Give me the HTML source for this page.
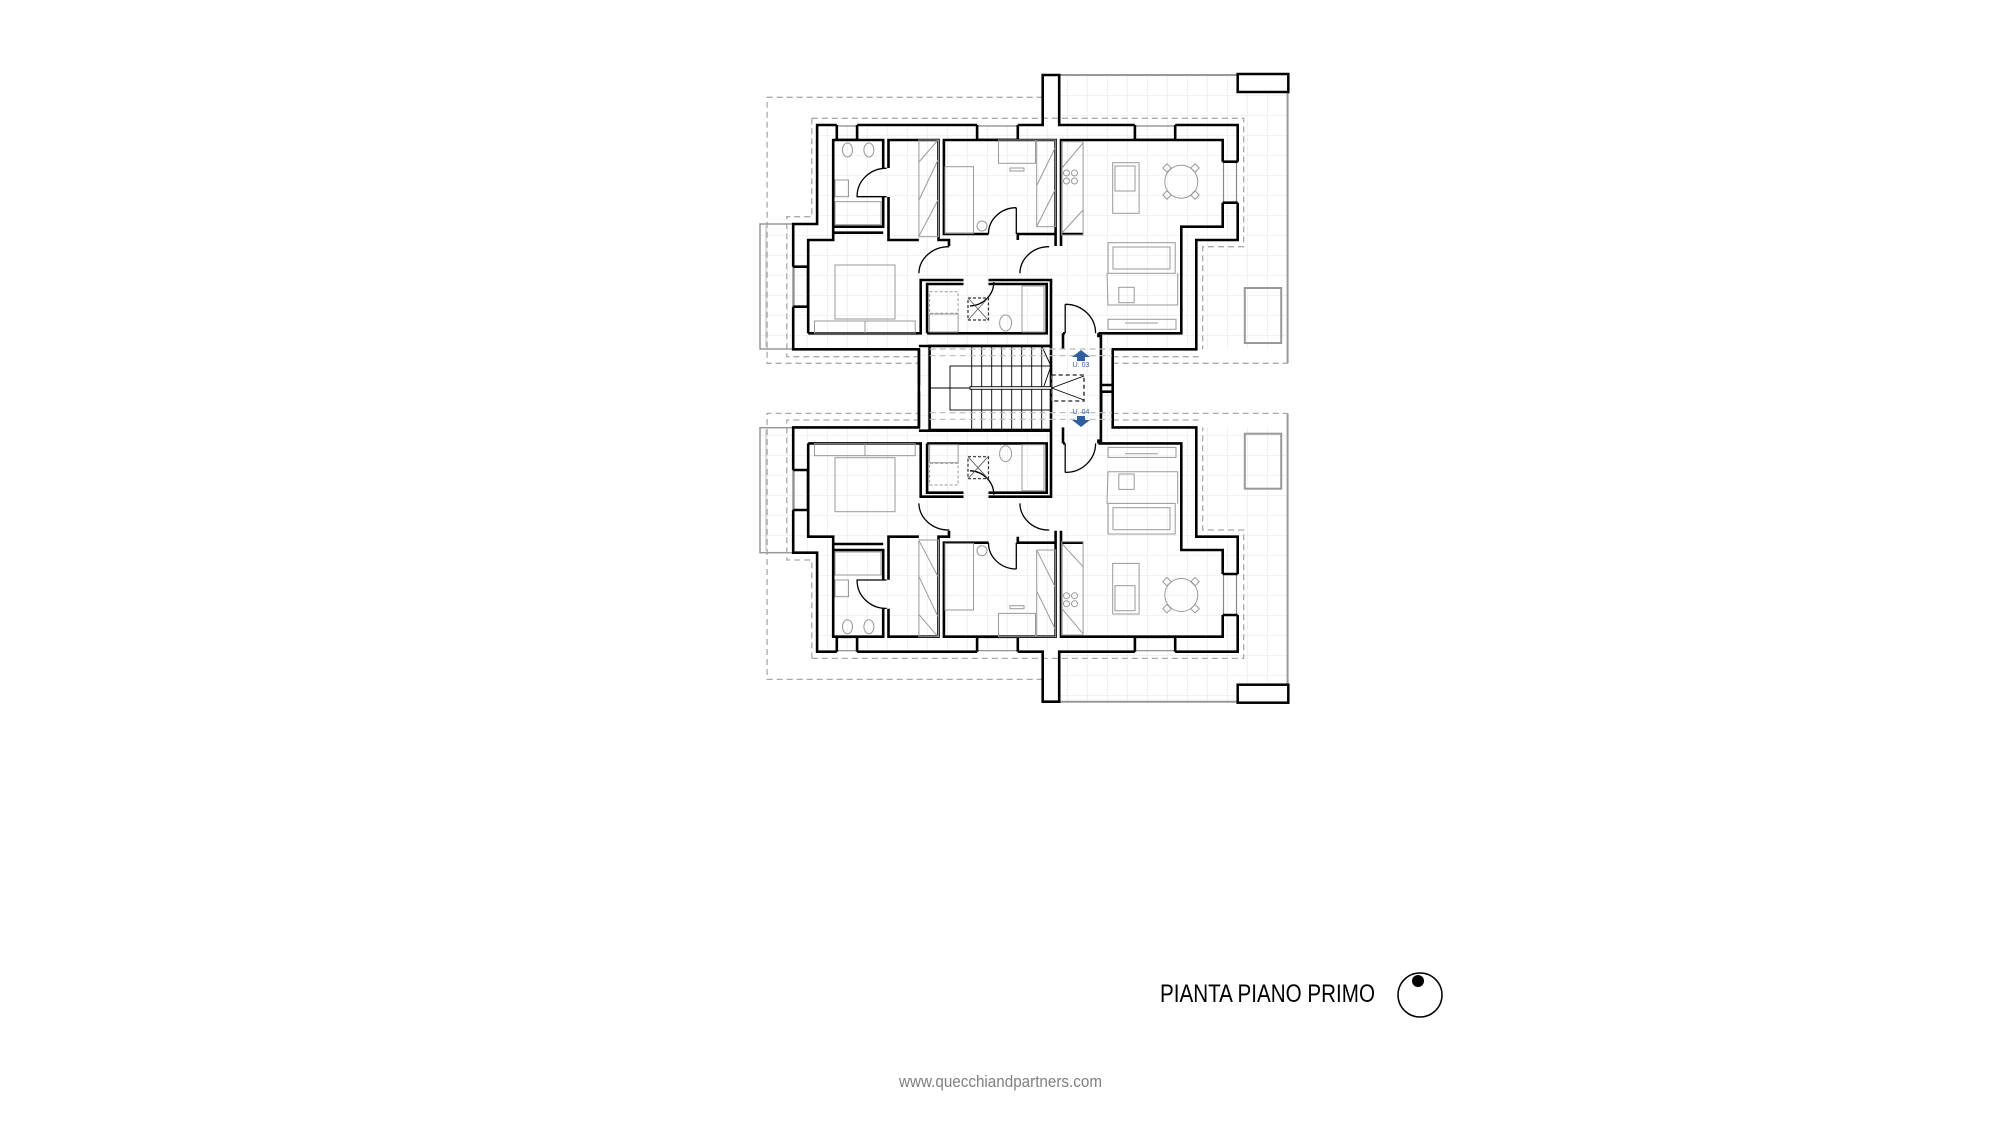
<!DOCTYPE html>
<html><head><meta charset="utf-8"><style>
html,body{margin:0;padding:0;background:#fff;}
svg{display:block;}
</style></head><body>
<svg width="2000" height="1125" viewBox="0 0 2000 1125" xmlns="http://www.w3.org/2000/svg">
<defs>
<pattern id="g" width="20" height="20" patternUnits="userSpaceOnUse" x="767" y="75">
<path d="M0 0H20M0 0V20" stroke="#e6e6e6" stroke-width="1" fill="none"/>
</pattern>
<clipPath id="cp"><path d="M760,224 H817 V125 H1059 V75 H1288 V349.3 H1112.7 V427.4 H1288 V701.7 H1059 V651.7 H817 V552.7 H760 V427.4 H918.9 V349.3 H760 Z"/></clipPath>
<g id="half">
  <path d="M1059.2,75 H1287.6 V363.3" fill="none" stroke="#999" stroke-width="2"/>
  <path d="M1042.7,97.3 H767.1 V363.3 H918.9 M1112.7,363.3 H1287.6" fill="none" stroke="#aaa" stroke-width="1.3" stroke-dasharray="6,4"/>
  <path d="M811.8,118.3 H1243.7 V246.7 H1202.7 V349.3 M811.8,118.3 V216.7 H786.8 V356.7 H918.9 M1112.7,356.7 H1202.7" fill="none" stroke="#aaa" stroke-width="1.3" stroke-dasharray="6,4"/>
  <rect x="760" y="224" width="33" height="125" fill="none" stroke="#999" stroke-width="1.5"/>
  <line x1="766" y1="226" x2="766" y2="347" stroke="#bbb"/>
  <rect x="1244.8" y="288" width="36.4" height="55" fill="none" stroke="#999" stroke-width="2"/>
  <rect x="1237.7" y="74" width="50.6" height="18" fill="#fff" stroke="#000" stroke-width="2.5"/>
  <path d="M918.9,385 V349.3 H793.2 V306.7 M793.2,266.7 V224 H817.1 V125 H836.8 M857.1,125 H977.1 M1017.8,125 H1042.7 V75 H1059.2 V125 H1134.9 M1175.2,125 H1237.7 V161.7 M1237.7,202.7 V240 H1196.3 V349.3 H1112.7 V385 H1100.9 V336 H1098.4 V333.3"
    fill="none" stroke="#000" stroke-width="2.6"/>
  <path d="M836.8,126 H857.1 M836.8,139 H857.1 M977.1,126 H1017.8 M977.1,139 H1017.8 M1134.9,126 H1175.2 M1134.9,139 H1175.2 M794,266.7 V306.7 M807,266.7 V306.7 M1236.5,161.7 V202.7 M1223.5,161.7 V202.7" stroke="#888" stroke-width="1.2"/>
  <path d="M836.8,125 V140 M857.1,125 V140 M977.1,125 V140 M1017.8,125 V140 M1134.9,125 V140 M1175.2,125 V140 M793.2,266.7 H808.2 M793.2,306.7 H808.2 M1222.7,161.7 H1237.7 M1222.7,202.7 H1237.7" stroke="#000" stroke-width="2.6"/>
  <path d="M883.2,168 V140 H833.2 V226.7 H883.2 V197 M888.5,168 V140 H938.5 V240 H949 V246 M888.5,197 V240 H918.9 M833.2,226.7 V232.7 H883.2 M808.2,333.3 V240 H833.2 V232.7 M808.2,240 V306.7"
    fill="none" stroke="#000" stroke-width="2.6"/>
  <path d="M988.5,234 H943.9 V140 H1055.6 V234 H1017.8 V240 M1061,234 V140 H1222.7 V161.7 M1222.7,202.7 V226.7 H1181.3 V333.3 H1098.4 M1061,234 H1083 M1055.6,234 V246 M1061,234 V246"
    fill="none" stroke="#000" stroke-width="2.6"/>
  <path d="M808.2,333.3 H920.7 V280 H927.1 M927.1,333.3 V284 H963.5 M988.5,284 H1046.7 V333.3 H927.1 M920.7,280 H963.5 M988.5,280 H1051 V333.3 M1051,280 V346 M1063,333.3 V349.3 M1063,333.3 H1065 M918.9,346 H1051"
    fill="none" stroke="#000" stroke-width="2.6"/>
  <path d="M886.7,168.3 A29 28 0 0 0 857.1,196.7 H886.7 M1016.3,207.7 V234 M1016.3,207.7 A28 26 0 0 0 988.5,234 M949.2,246.7 A30 27 0 0 0 918.9,273.3 M1049.2,246.7 A29 27 0 0 0 1019.9,273.3 M1065.2,304.3 V333.3 M1065.2,304.3 A30 29 0 0 1 1095.6,333.3 M993.8,282 A25 24 0 0 1 970,306"
    fill="none" stroke="#000" stroke-width="1.3"/>
  <g fill="none" stroke="#999" stroke-width="1">
    <rect x="835" y="265" width="60" height="54"/>
    <rect x="814.5" y="321" width="100.7" height="12"/>
    <line x1="865" y1="321" x2="865" y2="333"/>
    <rect x="945" y="166.7" width="28.5" height="66.6"/>
    <circle cx="982" cy="226" r="5"/>
    <rect x="998.5" y="140" width="37" height="23.3"/>
    <rect x="1010" y="168" width="14" height="3"/>
    <rect x="918.9" y="140" width="19.6" height="96.7"/>
    <path d="M919,162 L938,140 M919,200 L938,160 M919,236 L938,200"/>
    <rect x="1036.7" y="140" width="18.9" height="86.7"/>
    <path d="M1037,185 L1055,148 M1037,226 L1055,190"/>
    <rect x="1061.7" y="141.7" width="21.4" height="93.3"/>
    <path d="M1062,168 L1083,143 M1062,233 L1083,210"/>
    <circle cx="1066.5" cy="173" r="3"/><circle cx="1074.5" cy="173" r="3"/><circle cx="1066.5" cy="181" r="3"/><circle cx="1074.5" cy="181" r="3"/>
    <rect x="1112.7" y="162.7" width="26.4" height="50.6"/>
    <rect x="1115" y="166" width="20" height="25"/>
    <circle cx="1181.3" cy="181.7" r="16.5"/>
    <rect x="1164" y="165" width="6" height="6" transform="rotate(45 1167 168)"/>
    <rect x="1192" y="165" width="6" height="6" transform="rotate(45 1195 168)"/>
    <rect x="1164" y="192" width="6" height="6" transform="rotate(45 1167 195)"/>
    <rect x="1192" y="192" width="6" height="6" transform="rotate(45 1195 195)"/>
    <rect x="1108.1" y="242.7" width="67.1" height="30.6"/>
    <rect x="1113" y="247" width="57" height="22"/>
    <path d="M1107,273 L1108,305 H1177.7 V273"/>
    <rect x="1118.8" y="287.3" width="15.4" height="15.4"/>
    <rect x="1108.1" y="319.3" width="67.9" height="10"/>
    <line x1="1125" y1="323" x2="1158" y2="323"/>
    <ellipse cx="847.5" cy="150" rx="5" ry="7"/><ellipse cx="868.9" cy="150" rx="5" ry="7"/>
    <rect x="835" y="180" width="13.5" height="16.7"/>
    <rect x="835" y="201.7" width="46" height="23"/>
    <rect x="929.6" y="291.7" width="28.5" height="21.6" stroke-dasharray="3,2"/>
    <rect x="929.6" y="314" width="28.5" height="18"/>
    <ellipse cx="1005.6" cy="323" rx="6" ry="8"/>
    <rect x="1022" y="286" width="22" height="46"/>
  </g>
  <rect x="968" y="298" width="20.5" height="22" fill="none" stroke="#333" stroke-width="1.2" stroke-dasharray="3,2"/>
  <path d="M968,298 L988,320 M988,298 L968,320" stroke="#555" stroke-width="0.8"/>
</g>
</defs>
<rect x="760" y="75" width="528" height="627" fill="url(#g)" clip-path="url(#cp)"/>
<use href="#half"/>
<use href="#half" transform="translate(0,776.7) scale(1,-1)"/>
<rect x="929.6" y="346" width="121.4" height="84" fill="#fff" stroke="#000" stroke-width="2.6"/>
<path d="M918.9,349.3 V427.4 M1112.7,385 V391.7 M1100.9,385 V391.7" stroke="#000" stroke-width="2.6"/>
<g stroke="#000" stroke-width="0.9" fill="none">
  <path d="M971.7,346 V430 M981.7,346 V430 M991.7,346 V430 M1001.7,346 V430 M1011.7,346 V430 M1021.7,346 V430 M1031.7,346 V430 M1041.7,346 V430"/>
  <rect x="950" y="366" width="101.7" height="44"/>
  <path d="M929.6,388 H970"/>
  <rect x="970" y="386.7" width="81.7" height="2.6" fill="#fff"/>
  <path d="M1041.7,346 L1051,366 L1044,386"/>
  <path d="M1051.7,388 L1084,376 M1051.7,388 L1084,400"/>
  <path d="M1102,392 V414"/>
</g>
<rect x="1051.7" y="375" width="32.3" height="26" fill="none" stroke="#444" stroke-width="1.6" stroke-dasharray="4,3"/>
<g stroke="#bbb" stroke-width="1.2" stroke-dasharray="6,4"><path d="M929.6,349 H1112 M929.6,355.7 H1112 M929.6,412.7 H1112 M929.6,419.3 H1112"/></g>
<g fill="#2f5f9e">
  <path d="M1072,357 L1081,350 L1090,357 L1085,357 L1085,361 L1077,361 L1077,357 Z"/>
  <path d="M1072,420 L1081,427 L1090,420 L1085,420 L1085,416 L1077,416 L1077,420 Z"/>
  <text x="1081" y="367" font-family="Liberation Sans, sans-serif" font-size="7" text-anchor="middle">U. 03</text>
  <text x="1081" y="414" font-family="Liberation Sans, sans-serif" font-size="7" text-anchor="middle">U. 04</text>
</g>
<text x="1160" y="1002" font-family="Liberation Sans, sans-serif" font-size="25" fill="#000" textLength="215" lengthAdjust="spacingAndGlyphs">PIANTA PIANO PRIMO</text>
<circle cx="1420" cy="995" r="22" fill="none" stroke="#000" stroke-width="1.5"/>
<circle cx="1418" cy="981" r="6" fill="#000"/>
<text x="899" y="1087" font-family="Liberation Sans, sans-serif" font-size="17" fill="#808080" textLength="203" lengthAdjust="spacingAndGlyphs">www.quecchiandpartners.com</text>
</svg>
</body></html>
